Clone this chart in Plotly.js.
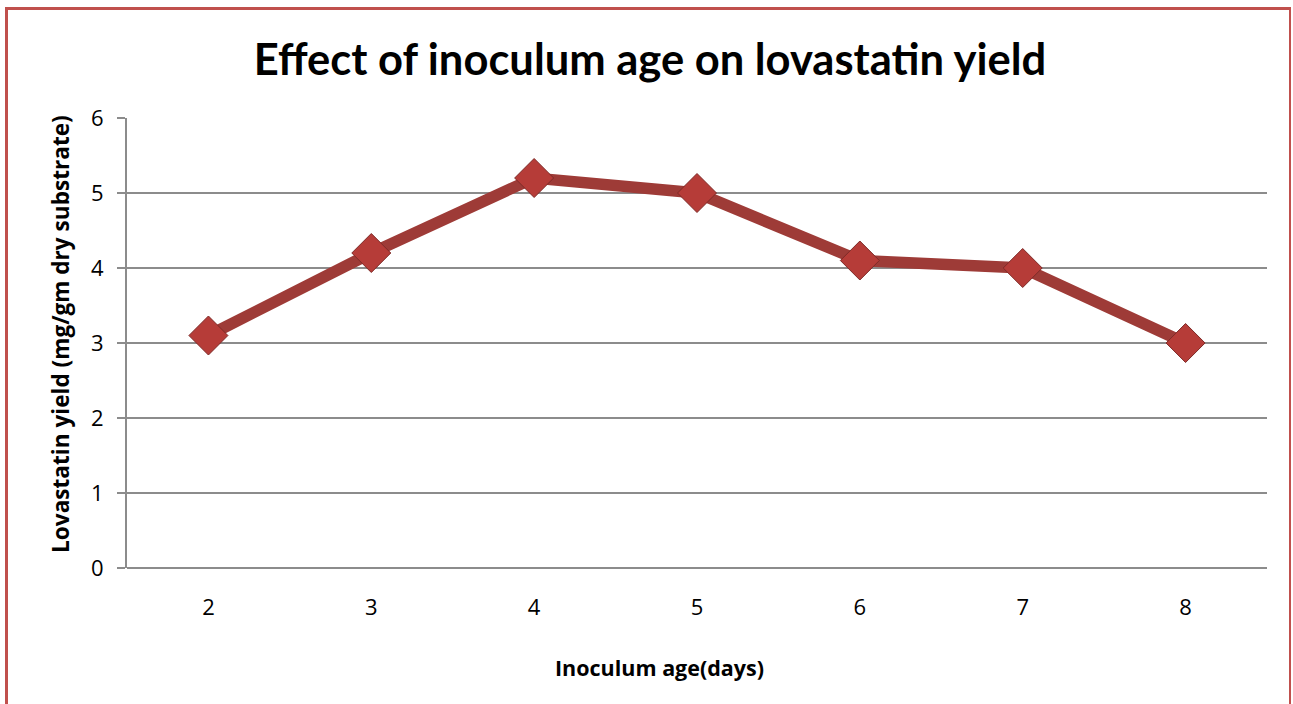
<!DOCTYPE html>
<html><head><meta charset="utf-8">
<script src="https://cdn.plot.ly/plotly-3.0.1.min.js"></script>
<style>
html,body{margin:0;padding:0;background:#fff;overflow:hidden;}
#frame{position:absolute;left:5px;top:7px;width:1286px;height:720px;border:3px solid #C0504D;border-right-width:2px;box-sizing:border-box;}
#chart{position:absolute;left:0;top:0;width:1293px;height:704px;}
</style></head>
<body>
<div id="frame"></div>
<div id="chart"></div>
<script>
const categories = ["2","3","4","5","6","7","8"];
const yieldValues = [3.1, 4.2, 5.2, 5.0, 4.1, 4.0, 3.0];
const yTicks = [0,1,2,3,4,5,6];
const chartTitle = 'Effect of inoculum age on lovastatin yield';
const xTitle = 'Inoculum age(days)';
const yTitle = 'Lovastatin yield (mg/gm dry substrate)';

const trace = {
  x: categories, y: yieldValues, type: 'scatter', mode: 'lines+markers',
  line: {color: '#9E3B37', width: 11.5},
  marker: {symbol: 'diamond', size: 30, color: '#B63C38', line: {color: '#7E2A27', width: 1}},
  cliponaxis: false, hoverinfo: 'x+y'
};
const layout = {
  width: 1293, height: 704,
  margin: {l: 127, r: 26, t: 118, b: 136},
  paper_bgcolor: 'rgba(0,0,0,0)', plot_bgcolor: 'rgba(0,0,0,0)',
  showlegend: false,
  font: {family: '"Open Sans", sans-serif', color: '#000'},
  title: {text: '<b>' + chartTitle + '</b>', font: {size: 43.5, family: 'Lato, sans-serif', color: '#000'}, x: 0.5027, xanchor: 'center', y: 0.915, yanchor: 'middle'},
  xaxis: {
    type: 'category', categoryorder: 'array', categoryarray: categories,
    range: [-0.5, 6.5], showgrid: false, zeroline: false,
    showline: false, ticks: '', tickfont: {size: 22, family: '"Open Sans", sans-serif'},
    ticklabelstandoff: 24
  },
  yaxis: {
    range: [0, 6], tickvals: yTicks, ticktext: yTicks.map(String),
    showgrid: true, gridcolor: '#8C8C8C', gridwidth: 1.5,
    zeroline: true, zerolinecolor: '#8C8C8C', zerolinewidth: 2,
    showline: true, linecolor: '#8C8C8C', linewidth: 2,
    ticks: 'outside', ticklen: 8, tickcolor: '#8C8C8C', tickwidth: 1.5,
    tickfont: {size: 22, family: '"Open Sans", sans-serif'}, ticklabelstandoff: 9
  },
  annotations: [
    {text: '<b>' + xTitle + '</b>', xref: 'paper', yref: 'paper', x: 0.4675, y: -0.22, xanchor: 'center', yanchor: 'middle', showarrow: false, font: {size: 21.5, family: '"Open Sans", sans-serif', color: '#000'}},
    {text: '<b>' + yTitle + '</b>', xref: 'paper', yref: 'paper', x: -0.0588, y: 0.52, xanchor: 'center', yanchor: 'middle', textangle: -90, showarrow: false, font: {size: 22.6, family: '"Open Sans", sans-serif', color: '#000'}}
  ]
};
Plotly.newPlot('chart', [trace], layout, {displayModeBar: false, staticPlot: true});
</script>
</body></html>
